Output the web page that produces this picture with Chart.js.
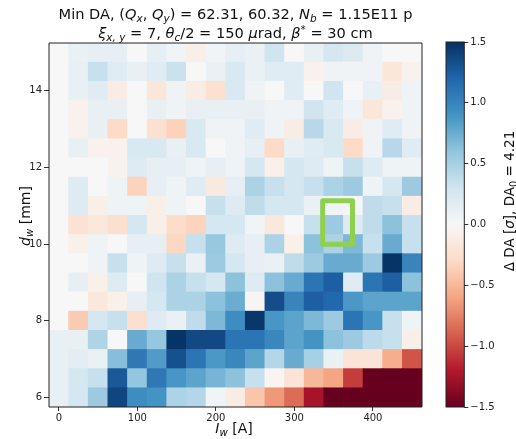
<!DOCTYPE html>
<html>
<head>
<meta charset="utf-8">
<script src="https://cdn.jsdelivr.net/npm/chart.js@4.4.1/dist/chart.umd.min.js"></script>
<style>
  body { margin: 0; background: #fff; font-family: "DejaVu Sans", sans-serif; }
  #wrap { position: relative; width: 516px; height: 439px; overflow: hidden; }
  canvas { position: absolute; top: 0; }
  #main { left: 0; }
  #cbar { left: 440px; }
  .txt { position: absolute; color: #111; white-space: nowrap; line-height: 17px; font-weight: normal; }
  .txt sub { font-size: 72%; vertical-align: -0.3em; line-height: 0; }
  .txt sup { font-size: 72%; vertical-align: 0.45em; line-height: 0; }
  #t1 { left: 0; width: 471px; top: 5px; text-align: center; font-size: 14.6px; }
  #t2 { left: 0; width: 471px; top: 24px; text-align: center; font-size: 14.6px; }
  #xl { left: 0; width: 468px; top: 420px; text-align: center; font-size: 14px; }
  .rot { width: 200px; height: 16px; line-height: 16px; text-align: center;
         transform-origin: 100px 8px; transform: rotate(-90deg); }
  #yl { left: -75px; top: 208px; font-size: 14px; }
  #cl { left: 409px; top: 193px; font-size: 13.5px; }
</style>
</head>
<body>
<div id="wrap">
  <canvas id="main" width="516" height="439"></canvas>
  <canvas id="cbar" width="76" height="439"></canvas>
  <div class="txt" id="t1">Min DA, (<i>Q<sub>x</sub></i>, <i>Q<sub>y</sub></i>) = 62.31, 60.32, <i>N<sub>b</sub></i> = 1.15E11 p</div>
  <div class="txt" id="t2"><i>ξ<sub>x, y</sub></i> = 7, <i>θ<sub>c</sub></i>/2 = 150 <i>μ</i>rad, <i>β</i><sup>*</sup> = 30 cm</div>
  <div class="txt" id="xl"><i>I<sub>w</sub></i> [A]</div>
  <div class="txt rot" id="yl"><i>d<sub>w</sub></i> [mm]</div>
  <div class="txt rot" id="cl">Δ DA [<i>σ</i>], DA<sub>0</sub> = 4.21</div>
</div>
<script>
// wire current I_w [A] (columns) and wire distance d_w [mm] (rows, top to bottom)
const iw = [0, 25, 50, 75, 100, 125, 150, 175, 200, 225, 250, 275, 300, 325, 350, 375, 400, 425, 450];
const dw = [15.0, 14.5, 14.0, 13.5, 13.0, 12.5, 12.0, 11.5, 11.0, 10.5, 10.0, 9.5, 9.0, 8.5, 8.0, 7.5, 7.0, 6.5, 6.0];

// delta DA [sigma], one row per d_w value
const delta = [
  [0, 0.1, 0.14, 0.14, 0, 0.14, 0.05, -0.09, 0.05, 0.14, 0.1, 0.3, 0, 0.12, 0.26, 0.21, 0.06, 0, 0],
  [0, 0.12, 0.35, 0.18, 0.12, 0.18, 0.33, 0, 0.1, 0.24, 0.1, 0.18, 0.18, -0.06, 0.06, 0.06, 0.06, -0.18, -0.06],
  [0, 0.12, 0.18, -0.12, 0, -0.18, 0.06, -0.12, -0.24, 0.24, 0.06, 0, 0.18, 0, 0.3, 0, 0.12, -0.12, 0.06],
  [0, -0.06, 0.12, 0.12, 0, 0.12, 0.06, 0.12, 0.12, 0.12, 0.12, 0.06, 0.06, 0.3, 0.18, 0.06, -0.18, -0.06, 0.06],
  [0, -0.06, 0.12, -0.3, 0, -0.24, -0.35, 0.24, 0.06, 0.06, 0.18, 0.06, -0.12, 0.42, 0.24, -0.12, 0.06, 0.18, 0.06],
  [0, 0.12, -0.06, -0.06, 0.24, 0.24, 0.12, 0.24, 0, 0.06, 0.14, -0.3, 0.12, 0.18, 0.24, -0.3, 0.06, 0.42, 0.18],
  [0, 0, 0, -0.05, 0.2, 0.13, 0.13, 0.07, 0.13, 0.07, 0.27, -0.08, 0.27, 0.2, 0.07, 0.35, 0.2, 0.07, 0.07],
  [0, 0.2, 0, 0.07, -0.34, 0.13, 0.07, 0.18, -0.15, 0.13, 0.48, 0.35, 0.27, 0.35, 0.48, 0.55, 0.07, 0.27, 0.55],
  [0, 0.2, -0.09, 0.07, 0.07, -0.09, 0.07, 0, 0.35, 0.2, 0.38, 0.27, 0.27, 0.1, 0.05, 0.03, 0.38, 0.35, -0.12],
  [0, -0.22, -0.16, -0.25, 0.27, -0.09, -0.29, -0.34, 0.27, 0.27, 0.05, -0.16, 0, 0.35, 0.55, 0.2, 0.38, 0.62, 0.35],
  [0, -0.08, 0.07, 0, 0.13, 0.13, -0.32, 0.35, 0.57, 0.2, 0.13, 0.48, -0.08, 0.62, 0.48, 0.68, 0.35, 0.76, 0.35],
  [0, 0, 0.07, 0.35, 0.07, 0.2, 0.35, 0.1, 0.55, 0.27, 0.13, 0.1, 0.38, 0.55, 0.76, 0.76, 0.55, 1.48, 1.0],
  [0, 0.13, -0.08, 0.2, 0, 0.3, 0.48, 0.35, 0.27, 0.62, 0.2, 0.62, 0.76, 1.1, 1.24, 0.18, 1.1, 1.24, 0.62],
  [0, 0, -0.16, -0.08, 0.13, 0.27, 0.48, 0.48, 0.62, 0.75, -0.02, 1.34, 1.0, 1.24, 1.19, 0.87, 0.8, 0.8, 0.8],
  [0, -0.39, 0.27, 0.35, -0.25, 0.2, 0.1, 0.38, 0.68, 0.94, 1.46, 0.88, 0.8, 0.68, 0.55, 1.1, 0.88, 0.35, 0.07],
  [0.12, 0.12, 0.46, 0, 0.76, 0.58, 1.48, 1.36, 1.36, 1.1, 1.1, 0.98, 0.8, 0.9, 0.62, 0.55, 0.4, 0.35, -0.09],
  [0.12, 0.16, 0.1, 0.64, 1.08, 0.85, 1.32, 1.1, 0.87, 0.98, 0.8, 0.44, 0.76, 0.5, 0.1, -0.2, -0.2, -0.55, -0.95],
  [0.12, 0.27, 0.35, 1.28, 0.59, 1.08, 0.88, 0.8, 0.7, 0.62, 0.35, -0.03, -0.2, -0.5, -0.6, -1.05, -1.5, -1.5, -1.5],
  [0.12, 0.27, 0.55, 1.38, 0.94, 0.9, 0.47, 0.44, 0.05, -0.12, -0.42, -0.65, -0.85, -1.25, -1.5, -1.5, -1.5, -1.5, -1.5]
];

const xTicks = [0, 100, 200, 300, 400];
const yTicks = [6, 8, 10, 12, 14];
const cbTicks = [-1.5, -1.0, -0.5, 0.0, 0.5, 1.0, 1.5];

// highlighted working point (data units)
const boxI = [336, 374];
const boxD = [10.0, 11.13];

// matplotlib RdBu
const rdbu = ['#67001f', '#b2182b', '#d6604d', '#f4a582', '#fddbc7', '#f7f7f7',
              '#d1e5f0', '#92c5de', '#4393c3', '#2166ac', '#053061'];
const vmin = -1.5, vmax = 1.5;

function hexRgb(c) {
  return [1, 3, 5].map(i => parseInt(c.substr(i, 2), 16));
}
function cmap(v) {
  let t = (v - vmin) / (vmax - vmin);
  t = Math.max(0, Math.min(1, t));
  const p = t * (rdbu.length - 1);
  const i = Math.min(rdbu.length - 2, Math.floor(p));
  const f = p - i;
  const a = hexRgb(rdbu[i]), b = hexRgb(rdbu[i + 1]);
  return 'rgb(' + a.map((x, k) => Math.round(x + (b[k] - x) * f)).join(',') + ')';
}

const halfI = (iw[1] - iw[0]) / 2;
const halfD = (dw[0] - dw[1]) / 2;

// one floating bar per cell
const cells = [];
dw.forEach((d, r) => {
  iw.forEach((x, c) => {
    cells.push({ x: x, y: [d - halfD * 1.04, d + halfD * 1.04], v: delta[r][c] });
  });
});

const tickFont = { family: 'DejaVu Sans', size: 10 };

const framePlugin = {
  id: 'frame',
  afterDatasetsDraw(chart) {
    const ctx = chart.ctx;
    const a = chart.chartArea;
    ctx.save();
    if (chart.canvas.id === 'main') {
      const x = chart.scales.x, y = chart.scales.y;
      const x0 = x.getPixelForValue(boxI[0]), x1 = x.getPixelForValue(boxI[1]);
      const y0 = y.getPixelForValue(boxD[1]), y1 = y.getPixelForValue(boxD[0]);
      ctx.strokeStyle = '#8fd14f';
      ctx.lineWidth = 5;
      ctx.lineJoin = 'round';
      ctx.strokeRect(x0, y0, x1 - x0, y1 - y0);
    }
    ctx.strokeStyle = '#222';
    ctx.lineWidth = 1;
    ctx.strokeRect(a.left, a.top, a.right - a.left, a.bottom - a.top);
    ctx.restore();
  }
};

new Chart(document.getElementById('main'), {
  type: 'bar',
  data: {
    datasets: [{
      data: cells,
      backgroundColor: c => cmap(c.raw ? c.raw.v : 0),
      borderWidth: 0,
      barPercentage: 1.04,
      categoryPercentage: 1,
      clip: 0
    }]
  },
  options: {
    responsive: false,
    animation: false,
    layout: { padding: { left: 0, right: 94, top: 43, bottom: 0 } },
    plugins: { legend: { display: false }, tooltip: { enabled: false } },
    scales: {
      x: {
        type: 'linear', min: iw[0] - halfI, max: iw[iw.length - 1] + halfI, offset: false,
        afterBuildTicks: s => { s.ticks = xTicks.map(v => ({ value: v })); },
        afterFit: s => { s.height = 32; },
        grid: { drawOnChartArea: false, tickLength: 4, color: '#333', offset: false },
        border: { display: false },
        ticks: { color: '#222', font: tickFont, padding: 1, maxRotation: 0, autoSkip: false }
      },
      y: {
        type: 'linear', min: dw[dw.length - 1] - halfD, max: dw[0] + halfD,
        afterBuildTicks: s => { s.ticks = yTicks.map(v => ({ value: v })); },
        afterFit: s => { s.width = 49; },
        grid: { drawOnChartArea: false, tickLength: 5, color: '#333' },
        border: { display: false },
        ticks: { color: '#222', font: tickFont, padding: 2, autoSkip: false }
      }
    }
  },
  plugins: [framePlugin]
});

// colour bar
new Chart(document.getElementById('cbar'), {
  type: 'bar',
  data: {
    labels: [''],
    datasets: [{
      data: [[vmin, vmax]],
      backgroundColor: c => {
        const a = c.chart.chartArea;
        if (!a) return '#fff';
        const g = c.chart.ctx.createLinearGradient(0, a.bottom, 0, a.top);
        rdbu.forEach((col, i) => g.addColorStop(i / (rdbu.length - 1), col));
        return g;
      },
      borderWidth: 0,
      barPercentage: 1,
      categoryPercentage: 1
    }]
  },
  options: {
    responsive: false,
    animation: false,
    layout: { padding: { left: 6, right: 0, top: 42, bottom: 32 } },
    plugins: { legend: { display: false }, tooltip: { enabled: false } },
    scales: {
      x: { display: false },
      y: {
        position: 'right', min: vmin, max: vmax,
        afterBuildTicks: s => { s.ticks = cbTicks.map(v => ({ value: v })); },
        afterFit: s => { s.width = 51.7; },
        grid: { drawOnChartArea: false, tickLength: 4, color: '#333' },
        border: { display: false },
        ticks: {
          color: '#222', font: tickFont, padding: 2, autoSkip: false,
          callback: v => (v < 0 ? '\u2212' : '') + Math.abs(v).toFixed(1)
        }
      }
    }
  },
  plugins: [framePlugin]
});
</script>
</body>
</html>
